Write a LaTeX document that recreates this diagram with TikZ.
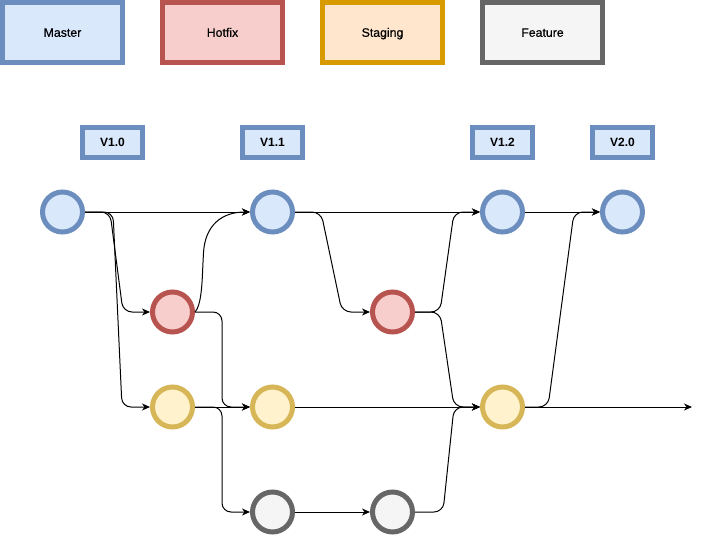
\documentclass[tikz,border=0pt]{standalone}
\usepackage{fontspec}
\setmainfont{Liberation Sans}
\newfontfamily\legendfont[FakeBold=0.6]{Liberation Sans}
\usetikzlibrary{arrows.meta}
\definecolor{mFill}{HTML}{DAE8FC}\definecolor{mDraw}{HTML}{6C8EBF}
\definecolor{hFill}{HTML}{F8CECC}\definecolor{hDraw}{HTML}{B85450}
\definecolor{sFill}{HTML}{FFE6CC}\definecolor{sDraw}{HTML}{D79B00}
\definecolor{cFill}{HTML}{FFF2CC}\definecolor{cDraw}{HTML}{D6B656}
\definecolor{fFill}{HTML}{F5F5F5}\definecolor{fDraw}{HTML}{666666}
\tikzset{
  legendbox/.style={rectangle, line width=5pt, minimum width=120pt, minimum height=60pt, inner sep=0pt, text height=8.6pt, text depth=0pt, font=\legendfont\fontsize{12.3pt}{14pt}\selectfont},
  verbox/.style={rectangle, line width=5pt, draw=mDraw, fill=mFill, minimum width=60pt, minimum height=30pt, inner sep=0pt, text height=8.6pt, text depth=0pt, font=\fontsize{12pt}{14pt}\selectfont\bfseries},
  commit/.style={circle, line width=5pt, minimum size=40pt, inner sep=0pt},
  mc/.style={commit, draw=mDraw, fill=mFill},
  hc/.style={commit, draw=hDraw, fill=hFill},
  sc/.style={commit, draw=cDraw, fill=cFill},
  fc/.style={commit, draw=fDraw, fill=fFill},
  link/.style={line width=1pt, -{Stealth[length=8pt,width=7pt,inset=2.5pt]}, rounded corners=9pt},
}
\begin{document}
\begin{tikzpicture}[x=1pt,y=-1pt]
\useasboundingbox (0,0) rectangle (701,535);
% legend
\node[legendbox, draw=mDraw, fill=mFill] (lm) at (62.5,32.5) {Master};
\node[legendbox, draw=hDraw, fill=hFill] (lh) at (222.5,32.5) {Hotfix};
\node[legendbox, draw=sDraw, fill=sFill] (ls) at (382.5,32.5) {Staging};
\node[legendbox, draw=fDraw, fill=fFill] (lf) at (542.5,32.5) {Feature};
% versions
\node[verbox] (v10) at (112.5,142.5) {V1.0};
\node[verbox] (v11) at (272.5,142.5) {V1.1};
\node[verbox] (v12) at (502.5,142.5) {V1.2};
\node[verbox] (v20) at (622.5,142.5) {V2.0};
% commits
\node[mc] (m1) at (62.5,212) {};
\node[mc] (m2) at (272.5,212) {};
\node[mc] (m3) at (502.5,212) {};
\node[mc] (m4) at (622.5,212) {};
\node[hc] (h1) at (172.5,312) {};
\node[hc] (h2) at (392.5,312) {};
\node[sc] (s1) at (172.5,407) {};
\node[sc] (s2) at (272.5,407) {};
\node[sc] (s3) at (502.5,407) {};
\node[fc] (f1) at (272.5,512) {};
\node[fc] (f2) at (392.5,512) {};
\coordinate (end) at (692,407);
% connectors
\draw[link] (m1.east) -- (m2.west);
\draw[link] (m1.east) -- (110,212) -- (123,312) -- (h1.west);
\draw[link] (m1.east) -- (113,212) -- (122,407) -- (s1.west);
\draw[link] (h1.east) .. controls (201,306) and (202,285) .. (203,262) .. controls (205,225) and (222,212) .. (m2.west);
\draw[link] (h1.east) -- (222,312) -- (222,407) -- (s2.west);
\draw[link] (s1.east) -- (s2.west);
\draw[link] (s1.east) -- (222,407) -- (222,512) -- (f1.west);
\draw[link] (m2.east) -- (m3.west);
\draw[link] (m2.east) -- (321,212) -- (342,312) -- (h2.west);
\draw[link] (h2.east) -- (440,312) -- (454,212) -- (m3.west);
\draw[link] (h2.east) -- (440,312) -- (454,407) -- (s3.west);
\draw[link] (s2.east) -- (s3.west);
\draw[link] (f1.east) -- (f2.west);
\draw[link] (f2.east) -- (443,512) -- (454,407) -- (s3.west);
\draw[link] (m3.east) -- (m4.west);
\draw[link] (s3.east) -- (548,407) -- (574,212) -- (m4.west);
\draw[link] (s3.east) -- (end);
\end{tikzpicture}
\end{document}
